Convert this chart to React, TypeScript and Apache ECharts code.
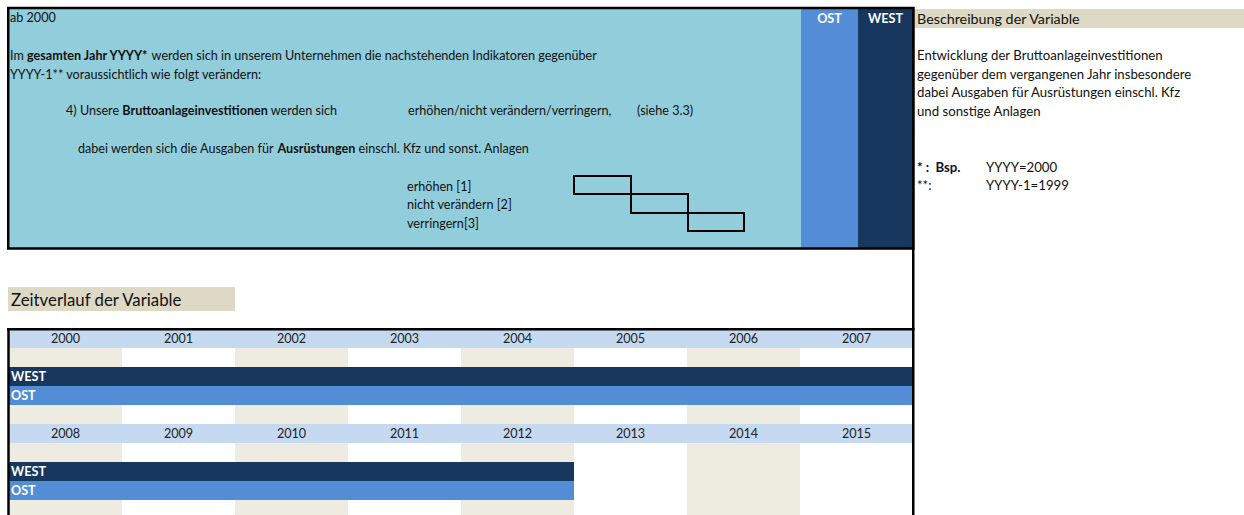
import React, { useEffect, useRef } from "react";
import * as echarts from "echarts";

const years1 = ["2000", "2001", "2002", "2003", "2004", "2005", "2006", "2007"];
const years2 = ["2008", "2009", "2010", "2011", "2012", "2013", "2014", "2015"];
// 1 = Daten vorhanden, 0 = keine Daten
const west1 = [1, 1, 1, 1, 1, 1, 1, 1];
const ost1 = [1, 1, 1, 1, 1, 1, 1, 1];
const west2 = [1, 1, 1, 1, 1, 0, 0, 0];
const ost2 = [1, 1, 1, 1, 1, 0, 0, 0];

const FONT = "Lato";
const FS = 12.6;
const FS_R = 13.2;
const C_TOP = "#92CDDC";
const C_OST = "#538DD5";
const C_WEST = "#17375E";
const C_HEAD = "#C5D9F1";
const C_STRIPE = "#EEECE1";
const C_TAN = "#DDD9C4";
const TXT = "#111111";

function txt(x: number, y: number, text: string, extra: any = {}) {
  const fs = extra.fontSize || FS;
  return {
    type: "text",
    z: 120,
    style: {
      x,
      y,
      text,
      fill: TXT,
      fontSize: fs,
      fontFamily: FONT,
      textAlign: "left",
      textVerticalAlign: "middle",
      rich: {
        b: { fontWeight: "bold", fontSize: fs, fontFamily: FONT },
      },
      ...extra,
    },
  };
}

export default function App() {
  const ref = useRef<HTMLDivElement>(null);
  useEffect(() => {
    if (!ref.current) return;
    const chart = echarts.init(ref.current, undefined, { renderer: "svg" });
    const blocks = [
      { years: years1, west: west1, ost: ost1, top: 329 },
      { years: years2, west: west2, ost: ost2, top: 424 },
    ];
    const grids: any[] = [];
    const xAxes: any[] = [];
    const yAxes: any[] = [];
    const series: any[] = [];
    blocks.forEach((b, i) => {
      grids.push({ left: 9, top: b.top, width: 904, height: 95 });
      xAxes.push({
        type: "category",
        gridIndex: i,
        data: b.years,
        axisLine: { show: false },
        axisTick: { show: false, interval: 0 },
        axisLabel: { show: false, interval: 0 },
        splitLine: { show: false },
        splitArea: { show: true, interval: 0, areaStyle: { color: [C_STRIPE, "#FFFFFF"] } },
      });
      yAxes.push({
        type: "value",
        gridIndex: i,
        min: 0,
        max: 5,
        inverse: true,
        show: false,
        splitLine: { show: false },
      });
      const stack = "s" + i;
      const common = {
        type: "bar",
        xAxisIndex: i,
        yAxisIndex: i,
        stack,
        barWidth: "100%",
        barCategoryGap: 0,
        silent: true,
      };
      series.push({
        ...common,
        name: "Jahr",
        data: b.years.map(() => 1),
        itemStyle: { color: C_HEAD },
        label: {
          show: true,
          position: "inside",
          formatter: "{b}",
          color: "#222",
          fontSize: FS,
          fontFamily: FONT,
        },
      });
      series.push({
        ...common,
        name: "pad",
        data: b.years.map(() => 1),
        itemStyle: { color: "rgba(0,0,0,0)" },
      });
      const lbl = {
        show: false,
        position: "insideLeft",
        distance: 2,
        formatter: "{a}",
        color: "#FFFFFF",
        fontWeight: "bold",
        fontSize: FS,
        fontFamily: FONT,
      };
      series.push({
        ...common,
        name: "WEST",
        data: b.west.map((v, k) => (k === 0 ? { value: v, label: { show: true } } : v)),
        itemStyle: { color: C_WEST },
        label: lbl,
      });
      series.push({
        ...common,
        name: "OST",
        data: b.ost.map((v, k) => (k === 0 ? { value: v, label: { show: true } } : v)),
        itemStyle: { color: C_OST },
        label: lbl,
      });
    });

    const graphic: any[] = [
      // top box
      { type: "rect", z: 10, shape: { x: 8, y: 8, width: 905, height: 241 }, style: { fill: C_TOP } },
      { type: "rect", z: 11, shape: { x: 801, y: 8, width: 57, height: 241 }, style: { fill: C_OST } },
      { type: "rect", z: 11, shape: { x: 858, y: 8, width: 55, height: 241 }, style: { fill: C_WEST } },
      { type: "rect", z: 110, shape: { x: 8.25, y: 8, width: 905, height: 240.5 }, style: { fill: "none", stroke: "#000", lineWidth: 2.5 } },
      // right description header
      { type: "rect", z: 10, shape: { x: 914.5, y: 9, width: 330, height: 19 }, style: { fill: C_TAN } },
      // long vertical line
      { type: "line", z: 110, shape: { x1: 913.25, y1: 7, x2: 913.25, y2: 530 }, style: { stroke: "#000", lineWidth: 2.5 } },
      // Zeitverlauf box
      { type: "rect", z: 10, shape: { x: 8, y: 287, width: 227, height: 24 }, style: { fill: C_TAN } },
      // table borders
      { type: "line", z: 110, shape: { x1: 7, y1: 329.25, x2: 914.5, y2: 329.25 }, style: { stroke: "#000", lineWidth: 2.5 } },
      { type: "line", z: 110, shape: { x1: 8.5, y1: 328, x2: 8.5, y2: 530 }, style: { stroke: "#000", lineWidth: 2.5 } },
      // checkbox staircase
      { type: "rect", z: 115, shape: { x: 574, y: 176, width: 57, height: 18 }, style: { fill: "none", stroke: "#000", lineWidth: 2 } },
      { type: "rect", z: 115, shape: { x: 631, y: 194, width: 57, height: 19 }, style: { fill: "none", stroke: "#000", lineWidth: 2 } },
      { type: "rect", z: 115, shape: { x: 688, y: 213, width: 56, height: 18 }, style: { fill: "none", stroke: "#000", lineWidth: 2 } },
      // texts
      txt(10, 17.5, "ab 2000"),
      txt(829.5, 18, "OST", { fill: "#FFFFFF", fontWeight: "bold", textAlign: "center" }),
      txt(885.5, 18, "WEST", { fill: "#FFFFFF", fontWeight: "bold", textAlign: "center" }),
      txt(10, 55, "Im {b|gesamten Jahr YYYY*} werden sich in unserem Unternehmen die nachstehenden Indikatoren gegenüber"),
      txt(10, 74, "YYYY-1** voraussichtlich wie folgt verändern:"),
      txt(66, 110, "4) Unsere {b|Bruttoanlageinvestitionen} werden sich"),
      txt(408, 110, "erhöhen/nicht verändern/verringern,"),
      txt(637, 110, "(siehe 3.3)"),
      txt(78, 148, "dabei werden sich die Ausgaben für {b|Ausrüstungen} einschl. Kfz und sonst. Anlagen"),
      txt(407, 186, "erhöhen [1]"),
      txt(407, 204, "nicht verändern [2]"),
      txt(407, 223, "verringern[3]"),
      txt(917, 18, "Beschreibung der Variable", { fontSize: 14.3 }),
      txt(917, 55, "Entwicklung der Bruttoanlageinvestitionen", { fontSize: FS_R }),
      txt(917, 73.5, "gegenüber dem vergangenen Jahr insbesondere", { fontSize: FS_R }),
      txt(917, 92, "dabei Ausgaben für Ausrüstungen einschl. Kfz", { fontSize: FS_R }),
      txt(917, 110.5, "und sonstige Anlagen", { fontSize: FS_R }),
      txt(917, 167, "{b|* :  Bsp.}", { fontSize: FS_R }),
      txt(986, 167, "YYYY=2000", { fontSize: FS_R }),
      txt(917, 185, "**:", { fontSize: FS_R }),
      txt(986, 185, "YYYY-1=1999", { fontSize: FS_R }),
      txt(11, 299, "Zeitverlauf der Variable", { fontSize: 16.8 }),
    ];

    chart.setOption({
      animation: false,
      backgroundColor: "#FFFFFF",
      grid: grids,
      xAxis: xAxes,
      yAxis: yAxes,
      series,
      graphic,
    });
    return () => chart.dispose();
  }, []);
  return (
    <div
      style={{
        position: "absolute",
        left: 0,
        top: 0,
        width: 1244,
        height: 515,
        overflow: "hidden",
        background: "#FFFFFF",
      }}
    >
      <div ref={ref} style={{ width: 1244, height: 540 }} />
    </div>
  );
}
